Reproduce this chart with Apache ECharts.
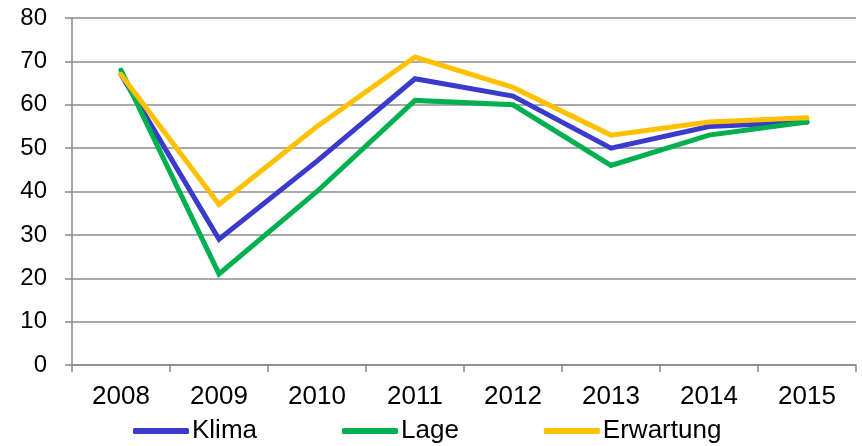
<!DOCTYPE html>
<html><head><meta charset="utf-8">
<script src="https://cdn.jsdelivr.net/npm/echarts@6/dist/echarts.min.js"></script>
<style>html,body{margin:0;padding:0;background:#fff}#c{width:862px;height:446px}</style>
</head><body><div id="c"></div>
<script>
const categories = ['2008','2009','2010','2011','2012','2013','2014','2015'];
const klima = [67, 29, 47, 66, 62, 50, 55, 56];
const lage = [68, 21, 40, 61, 60, 46, 53, 56];
const erwartung = [67, 37, 55, 71, 64, 53, 56, 57];
const chart = echarts.init(document.getElementById('c'));
const font = 'Liberation Sans, Arial, sans-serif';
function s(name, data, color){
  return {name, type:'line', data, symbol:'none', lineStyle:{width:5, color, cap:'round', join:'miter'}, itemStyle:{color}, animation:false};
}
chart.setOption({
  animation:false,
  grid:{left:72, right:6, top:18, bottom:81},
  legend:{top:413, left:128, itemWidth:56, itemHeight:6, itemGap:85, icon:'roundRect',
    textStyle:{fontFamily:font, fontSize:26, color:'#000', padding:[0,0,0,-2]},
    data:['Klima','Lage','Erwartung']},
  xAxis:{type:'category', data:categories, boundaryGap:true,
    axisLine:{lineStyle:{color:'#888', width:1.5}},
    axisTick:{show:true, length:7, lineStyle:{color:'#888', width:1.5}},
    axisLabel:{fontFamily:font, fontSize:26, color:'#000', margin:19}},
  yAxis:{type:'value', min:0, max:80, interval:10,
    axisLine:{show:true, lineStyle:{color:'#888', width:1.5}},
    axisTick:{show:true, length:7, lineStyle:{color:'#888', width:1.5}},
    splitLine:{lineStyle:{color:'#8c8c8c', width:1.5}},
    axisLabel:{fontFamily:font, fontSize:24, color:'#000', margin:25}},
  series:[s('Klima', klima, '#3a3acc'), s('Lage', lage, '#00b050'), s('Erwartung', erwartung, '#ffc000')]
});
</script></body></html>
